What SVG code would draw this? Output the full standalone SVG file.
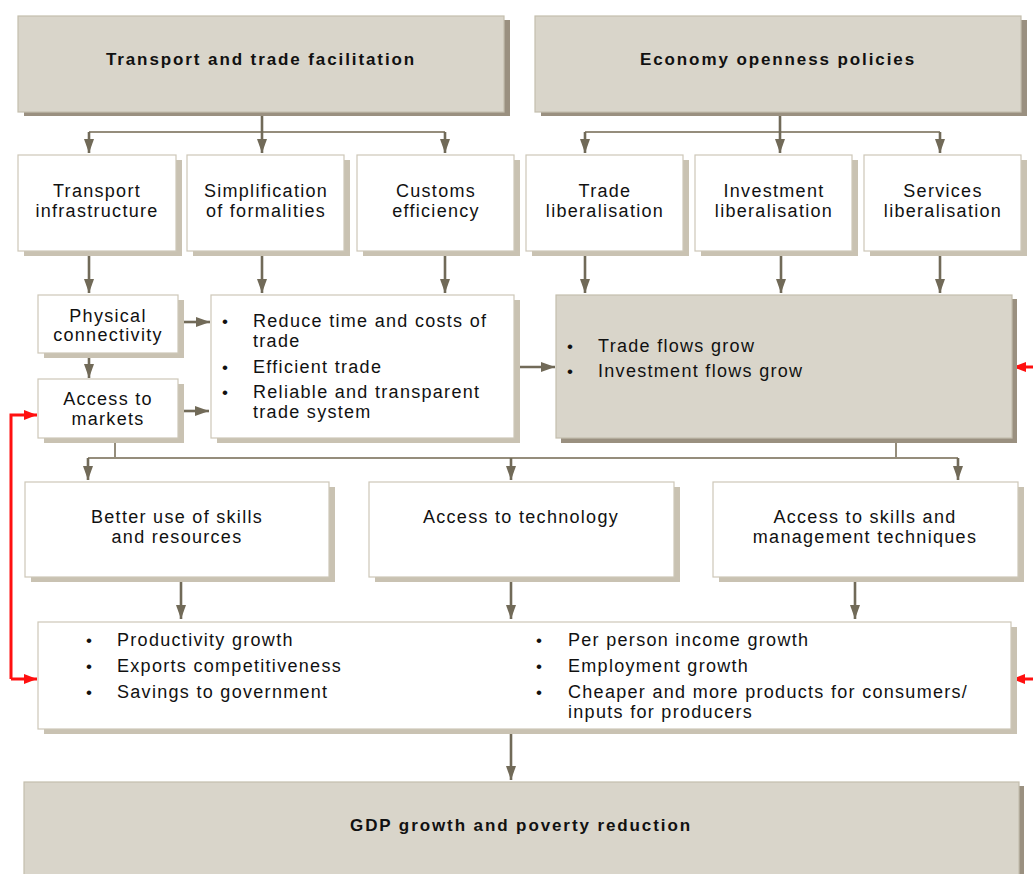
<svg xmlns="http://www.w3.org/2000/svg" width="1033" height="874" viewBox="0 0 1033 874">
<style>
.bg{fill:#ffffff}
.sh-dark{fill:#9a9080}
.sh-light{fill:#c9c2b2}
.beige{fill:#d9d5ca;stroke:#c4bead;stroke-width:1.2}
.white{fill:#ffffff;stroke:#cdc7b8;stroke-width:1.2}
.t{font-family:"Liberation Sans",Arial,sans-serif;font-size:18px;letter-spacing:1.3px;fill:#111}
.c{text-anchor:middle}
.b{font-weight:bold;font-size:17px;letter-spacing:1.9px}
.bul{font-family:"Liberation Sans",Arial,sans-serif;font-size:17px;fill:#111}
.stem{fill:none;stroke:#716a58;stroke-width:2.6}
.bus{fill:none;stroke:#958d7c;stroke-width:2}
.red{fill:none;stroke:#ff1010;stroke-width:3}
</style>
<defs>
<marker id="ah" viewBox="0 0 14 10" refX="14" refY="5" markerWidth="14" markerHeight="10" markerUnits="userSpaceOnUse" orient="auto">
<path d="M0,0 L14,5 L0,10 z" fill="#716a58"/>
</marker>
<marker id="ahr" viewBox="0 0 13 10" refX="13" refY="5" markerWidth="13" markerHeight="10" markerUnits="userSpaceOnUse" orient="auto">
<path d="M0,0 L13,5 L0,10 z" fill="#ff1010"/>
</marker>
</defs>
<rect class="bg" x="0" y="0" width="1033" height="874"/>

<g id="connectors">
<path class="bus" d="M89,132 H445"/>
<path class="stem" d="M262,112 V153" marker-end="url(#ah)"/>
<path class="stem" d="M89,132 V153" marker-end="url(#ah)"/>
<path class="stem" d="M445,132 V153" marker-end="url(#ah)"/>
<path class="bus" d="M585,132 H940"/>
<path class="stem" d="M780,112 V153" marker-end="url(#ah)"/>
<path class="stem" d="M585,132 V153" marker-end="url(#ah)"/>
<path class="stem" d="M940,132 V153" marker-end="url(#ah)"/>
<path class="stem" d="M89,256 V293" marker-end="url(#ah)"/>
<path class="stem" d="M262,256 V293" marker-end="url(#ah)"/>
<path class="stem" d="M445,256 V293" marker-end="url(#ah)"/>
<path class="stem" d="M585,256 V293" marker-end="url(#ah)"/>
<path class="stem" d="M781,256 V293" marker-end="url(#ah)"/>
<path class="stem" d="M940,256 V293" marker-end="url(#ah)"/>
<path class="stem" d="M89,358 V378" marker-end="url(#ah)"/>
<path class="stem" d="M184,322 H210" marker-end="url(#ah)"/>
<path class="stem" d="M184,411 H209" marker-end="url(#ah)"/>
<path class="stem" d="M520,367 H555" marker-end="url(#ah)"/>
<path class="bus" d="M115,438 V458 M896,442 V458 M88,458 H958"/>
<path class="stem" d="M88,458 V480" marker-end="url(#ah)"/>
<path class="stem" d="M511,458 V480" marker-end="url(#ah)"/>
<path class="stem" d="M958,458 V480" marker-end="url(#ah)"/>
<path class="stem" d="M181,582 V619" marker-end="url(#ah)"/>
<path class="stem" d="M511,582 V619" marker-end="url(#ah)"/>
<path class="stem" d="M855,582 V619" marker-end="url(#ah)"/>
<path class="stem" d="M511,734 V780" marker-end="url(#ah)"/>
<path class="red" d="M11,679 V415 H37" marker-end="url(#ahr)"/>
<path class="red" d="M11,679 H37" marker-end="url(#ahr)"/>
<path class="red" d="M1040,367 H1013" marker-end="url(#ahr)"/>
<path class="red" d="M1040,679 H1012" marker-end="url(#ahr)"/>
</g>

<g id="transport-trade-facilitation">
<rect class="sh-dark" x="24" y="20" width="486" height="96"/>
<rect class="beige" x="18" y="16" width="486" height="96"/>
<text class="t c b" x="261" y="65">Transport and trade facilitation</text>
</g>
<g id="economy-openness-policies">
<rect class="sh-dark" x="541" y="20" width="486" height="96"/>
<rect class="beige" x="535" y="16" width="486" height="96"/>
<text class="t c b" x="778" y="65">Economy openness policies</text>
</g>

<g id="transport-infrastructure">
<rect class="sh-light" x="24" y="160" width="158" height="96"/>
<rect class="white" x="18" y="155" width="158" height="96"/>
<text class="t c" x="97" y="197">Transport</text>
<text class="t c" x="97" y="217">infrastructure</text>
</g>
<g id="simplification-of-formalities">
<rect class="sh-light" x="193" y="160" width="157" height="96"/>
<rect class="white" x="187" y="155" width="157" height="96"/>
<text class="t c" x="266" y="197">Simplification</text>
<text class="t c" x="266" y="217">of formalities</text>
</g>
<g id="customs-efficiency">
<rect class="sh-light" x="363" y="160" width="157" height="96"/>
<rect class="white" x="357" y="155" width="157" height="96"/>
<text class="t c" x="436" y="197">Customs</text>
<text class="t c" x="436" y="217">efficiency</text>
</g>
<g id="trade-liberalisation">
<rect class="sh-light" x="532" y="160" width="157" height="96"/>
<rect class="white" x="526" y="155" width="157" height="96"/>
<text class="t c" x="605" y="197">Trade</text>
<text class="t c" x="605" y="217">liberalisation</text>
</g>
<g id="investment-liberalisation">
<rect class="sh-light" x="701" y="160" width="157" height="96"/>
<rect class="white" x="695" y="155" width="157" height="96"/>
<text class="t c" x="774" y="197">Investment</text>
<text class="t c" x="774" y="217">liberalisation</text>
</g>
<g id="services-liberalisation">
<rect class="sh-light" x="870" y="160" width="157" height="96"/>
<rect class="white" x="864" y="155" width="157" height="96"/>
<text class="t c" x="943" y="197">Services</text>
<text class="t c" x="943" y="217">liberalisation</text>
</g>

<g id="physical-connectivity">
<rect class="sh-light" x="44" y="300" width="140" height="58"/>
<rect class="white" x="38" y="295" width="140" height="58"/>
<text class="t c" x="108" y="322">Physical</text>
<text class="t c" x="108" y="341">connectivity</text>
</g>
<g id="access-to-markets">
<rect class="sh-light" x="44" y="384" width="140" height="59"/>
<rect class="white" x="38" y="379" width="140" height="59"/>
<text class="t c" x="108" y="405">Access to</text>
<text class="t c" x="108" y="425">markets</text>
</g>
<g id="trade-outcomes">
<rect class="sh-light" x="217" y="300" width="303" height="143"/>
<rect class="white" x="211" y="295" width="303" height="143"/>
<text class="bul" x="222" y="327">•</text>
<text class="t" x="253" y="327">Reduce time and costs of</text>
<text class="t" x="253" y="347">trade</text>
<text class="bul" x="222" y="373">•</text>
<text class="t" x="253" y="373">Efficient trade</text>
<text class="bul" x="222" y="398">•</text>
<text class="t" x="253" y="398">Reliable and transparent</text>
<text class="t" x="253" y="418">trade system</text>
</g>
<g id="flows-grow">
<rect class="sh-dark" x="561" y="299" width="456" height="144"/>
<rect class="beige" x="556" y="295" width="456" height="143"/>
<text class="bul" x="567" y="352">•</text>
<text class="t" x="598" y="352">Trade flows grow</text>
<text class="bul" x="567" y="377">•</text>
<text class="t" x="598" y="377">Investment flows grow</text>
</g>

<g id="better-use-of-skills">
<rect class="sh-light" x="31" y="487" width="304" height="95"/>
<rect class="white" x="25" y="482" width="304" height="95"/>
<text class="t c" x="177" y="523">Better use of skills</text>
<text class="t c" x="177" y="543">and resources</text>
</g>
<g id="access-to-technology">
<rect class="sh-light" x="375" y="487" width="305" height="95"/>
<rect class="white" x="369" y="482" width="305" height="95"/>
<text class="t c" x="521" y="523">Access to technology</text>
</g>
<g id="access-to-skills">
<rect class="sh-light" x="719" y="487" width="305" height="95"/>
<rect class="white" x="713" y="482" width="305" height="95"/>
<text class="t c" x="865" y="523">Access to skills and</text>
<text class="t c" x="865" y="543">management techniques</text>
</g>

<g id="results">
<rect class="sh-light" x="44" y="627" width="973" height="107"/>
<rect class="white" x="38" y="622" width="973" height="107"/>
<text class="bul" x="86" y="646">•</text>
<text class="t" x="117" y="646">Productivity growth</text>
<text class="bul" x="86" y="672">•</text>
<text class="t" x="117" y="672">Exports competitiveness</text>
<text class="bul" x="86" y="698">•</text>
<text class="t" x="117" y="698">Savings to government</text>
<text class="bul" x="536" y="646">•</text>
<text class="t" x="568" y="646">Per person income growth</text>
<text class="bul" x="536" y="672">•</text>
<text class="t" x="568" y="672">Employment growth</text>
<text class="bul" x="536" y="698">•</text>
<text class="t" x="568" y="698">Cheaper and more products for consumers/</text>
<text class="t" x="568" y="718">inputs for producers</text>
</g>

<g id="gdp-growth">
<rect class="sh-dark" x="29" y="786" width="995" height="100"/>
<rect class="beige" x="24" y="782" width="995" height="100"/>
<text class="t c b" x="521" y="831">GDP growth and poverty reduction</text>
</g>
</svg>
